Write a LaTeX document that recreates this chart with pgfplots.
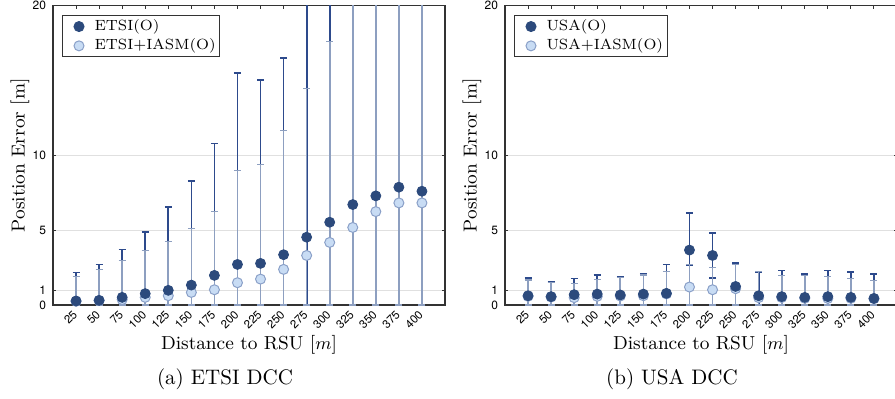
\documentclass[border=0pt]{standalone}
\usepackage{fontspec}
\usepackage{pgfplots}
\usepackage{pgfplotstable}
\pgfplotsset{compat=1.18}
\newfontfamily\ticksans{TeX Gyre Heros}

\definecolor{dkfill}{HTML}{2C4A7C}
\definecolor{dkbar}{HTML}{2D4A8C}
\definecolor{ltfill}{HTML}{C8DCF4}
\definecolor{ltedge}{HTML}{8AA0C8}
\definecolor{ltbar}{HTML}{8D9FC0}

% x  y  ep  em
\pgfplotstableread{
x y ep em
25 0.27 1.89 0.27
50 0.31 2.38 0.31
75 0.51 3.20 0.51
100 0.76 4.11 0.76
125 0.98 5.58 0.98
150 1.33 6.96 1.33
175 1.98 8.80 1.98
200 2.71 12.80 2.71
225 2.78 12.24 2.78
250 3.36 13.13 3.36
275 4.53 16.00 4.53
300 5.53 15.00 5.53
325 6.71 14.00 6.71
350 7.29 13.40 7.29
375 7.87 12.80 7.87
400 7.60 13.00 7.60
}\etsi
\pgfplotstableread{
x y ep em
25 0.25 1.68 0.25
50 0.30 2.08 0.30
75 0.36 2.62 0.36
100 0.51 3.11 0.51
125 0.62 3.60 0.62
150 0.84 4.29 0.84
175 1.02 5.22 1.02
200 1.49 7.47 1.49
225 1.73 7.63 1.73
250 2.38 9.26 2.38
275 3.31 11.13 3.31
300 4.18 13.42 4.18
325 5.18 15.50 5.18
350 6.24 14.40 6.24
375 6.82 13.80 6.82
400 6.82 13.80 6.82
}\etsiiasm
\pgfplotstableread{
x y ep em
25 0.62 1.18 0.62
50 0.56 0.97 0.56
75 0.69 1.07 0.69
100 0.73 1.27 0.73
125 0.67 1.20 0.67
150 0.73 1.34 0.73
175 0.78 1.93 0.78
200 3.67 2.49 1.00
225 3.31 1.49 1.49
250 1.24 1.56 1.24
275 0.62 1.60 0.62
300 0.56 1.73 0.56
325 0.51 1.56 0.51
350 0.56 1.75 0.56
375 0.51 1.71 0.51
400 0.44 1.63 0.44
}\usa
\pgfplotstableread{
x y ep em
25 0.58 1.09 0.58
50 0.53 0.96 0.53
75 0.49 0.95 0.49
100 0.58 1.13 0.58
125 0.60 1.24 0.60
150 0.62 1.38 0.62
175 0.74 1.48 0.74
200 1.20 1.49 1.20
225 1.02 1.47 1.02
250 1.09 1.64 1.09
275 0.49 1.73 0.49
300 0.50 1.48 0.50
325 0.45 1.53 0.45
350 0.44 1.45 0.44
375 0.45 1.33 0.45
400 0.42 1.22 0.42
}\usaiasm

\pgfplotsset{
  myaxis/.style={
    scale only axis, width=196pt, height=149.7pt,
    xmin=0, xmax=425, ymin=0, ymax=20,
    xtick={25,50,...,400}, ytick={0,1,5,10,20},
    ymajorgrids, grid style={color=black!12, line width=0.5pt},
    axis line style={color=black!80, line width=0.6pt},
    tick style={color=black!80, line width=0.5pt},
    major tick length=1.6pt,
    /pgf/number format/assume math mode=true,
    xticklabel style={rotate=45, anchor=east, xshift=0.35pt, yshift=-2.47pt,
      font=\ticksans\fontsize{5.8}{6}\selectfont},
    yticklabel style={font=\ticksans\fontsize{6}{6}\selectfont},
    xlabel={Distance to RSU [$m$]},
    ylabel={Position Error [m]},
    label style={font=\fontsize{9.4}{11}\selectfont},
    xlabel style={at={(axis description cs:0.5,-0.134)}, anchor=center},
    ylabel style={at={(axis description cs:-0.0842,0.5)}, anchor=center},
    legend style={at={(axis description cs:0,1)}, anchor=north west, xshift=4.5pt, yshift=-4.7pt,
      draw=black!80, line width=0.5pt, font=\fontsize{7.4}{8}\selectfont,
      inner xsep=1pt, inner ysep=1pt,
      nodes={inner sep=1pt},
      row sep=0.6pt, legend cell align=left},
    legend image code/.code={\path (-7pt,0pt) (6.5pt,0pt); \draw[##1] plot coordinates {(0pt,0pt)};},
    clip=true,
  },
  dkerr/.style={forget plot, only marks, mark=none,
    error bars/.cd, y dir=both, y explicit,
    error bar style={color=dkbar, line width=0.85pt},
    error mark options={rotate=90, mark size=1.75pt, line width=0.75pt, color=dkbar}},
  lterr/.style={forget plot, only marks, mark=*, mark size=2.5pt,
    mark options={fill=ltfill, draw=ltedge, line width=0.5pt},
    error bars/.cd, y dir=both, y explicit,
    error bar style={color=ltbar, line width=0.8pt},
    error mark options={rotate=90, mark size=1.75pt, line width=0.6pt, color=ltbar}},
  dkmark/.style={forget plot, only marks, mark=*, mark size=2.5pt,
    mark options={fill=dkfill, draw=dkfill}},
}

\begin{document}
\begin{tikzpicture}
\path[use as bounding box] (0,0) rectangle (447.5pt,199pt);

\begin{axis}[myaxis, at={(26.5pt,46.5pt)}, anchor=south west]
\addlegendimage{only marks, mark=*, mark size=2.5pt, mark options={fill=dkfill, draw=dkfill}}
\addlegendentry{ETSI(O)}
\addlegendimage{only marks, mark=*, mark size=2.5pt, mark options={fill=ltfill, draw=ltedge, line width=0.5pt}}
\addlegendentry{ETSI+IASM(O)}
\addplot[dkerr] table[x=x, y=y, y error plus=ep, y error minus=em] {\etsi};
\addplot[lterr] table[x=x, y=y, y error plus=ep, y error minus=em] {\etsiiasm};
\addplot[dkmark] table[x=x, y=y] {\etsi};
\end{axis}

\begin{axis}[myaxis, at={(252.5pt,46.5pt)}, anchor=south west]
\addlegendimage{only marks, mark=*, mark size=2.5pt, mark options={fill=dkfill, draw=dkfill}}
\addlegendentry{USA(O)}
\addlegendimage{only marks, mark=*, mark size=2.5pt, mark options={fill=ltfill, draw=ltedge, line width=0.5pt}}
\addlegendentry{USA+IASM(O)}
\addplot[dkerr] table[x=x, y=y, y error plus=ep, y error minus=em] {\usa};
\addplot[lterr] table[x=x, y=y, y error plus=ep, y error minus=em] {\usaiasm};
\addplot[dkmark] table[x=x, y=y] {\usa};
\end{axis}

\node[font=\fontsize{10.5}{12}\selectfont] at (112.5pt,9.5pt) {(a) ETSI DCC};
\node[font=\fontsize{10.5}{12}\selectfont] at (336pt,9.5pt) {(b) USA DCC};
\end{tikzpicture}
\end{document}
